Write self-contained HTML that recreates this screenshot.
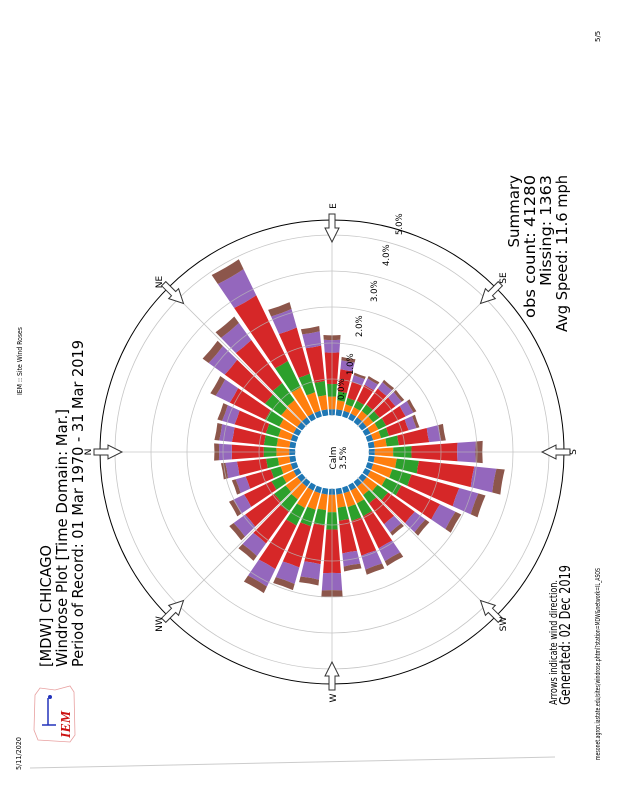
<!DOCTYPE html>
<html><head><meta charset="utf-8"><style>
html,body{margin:0;padding:0;background:#fff;}
svg{display:block;font-family:"DejaVu Sans","Liberation Sans",sans-serif;}
</style></head><body>
<svg id="s" width="618" height="800" viewBox="0 0 618 800" xmlns="http://www.w3.org/2000/svg">
<rect width="618" height="800" fill="#fff"/>
<g id="bars"></g>
<g id="grid" fill="none" stroke="#b8b8b8" stroke-width="0.8" opacity="0.8"></g>
<circle cx="332" cy="452" r="36" fill="#fff"/>
<circle cx="332" cy="452" r="232" fill="none" stroke="#000" stroke-width="1"/>
<g id="arrows" fill="#fff" stroke="#333" stroke-width="1"></g>
<g font-size="9" fill="#000">
<text transform="translate(336,458) rotate(-90)" text-anchor="middle">Calm</text>
<text transform="translate(346,458) rotate(-90)" text-anchor="middle">3.5%</text>
<text transform="translate(344,400) rotate(-90)" font-size="8.5">0.0%</text>
<text transform="translate(353,375) rotate(-90)" font-size="8.5">1.0%</text>
<text transform="translate(362,337) rotate(-90)" font-size="8.5">2.0%</text>
<text transform="translate(377,302) rotate(-90)" font-size="8.5">3.0%</text>
<text transform="translate(389,266) rotate(-90)" font-size="8.5">4.0%</text>
<text transform="translate(402,235) rotate(-90)" font-size="8.5">5.0%</text>
</g>
<g font-size="9" fill="#000" text-anchor="middle">
<text transform="translate(91,452) rotate(-90)">N</text>
<text transform="translate(336,206) rotate(-90)">E</text>
<text transform="translate(576,452) rotate(-90)">S</text>
<text transform="translate(336,698) rotate(-90)">W</text>
<text transform="translate(162,282) rotate(-90)">NE</text>
<text transform="translate(506,278) rotate(-90)">SE</text>
<text transform="translate(506,624) rotate(-90)">SW</text>
<text transform="translate(162,624) rotate(-90)">NW</text>
</g>
<g fill="#000">
<text transform="translate(51,667) rotate(-90)" font-size="15.5" textLength="122" lengthAdjust="spacingAndGlyphs">[MDW] CHICAGO</text>
<text transform="translate(67,667) rotate(-90)" font-size="15.5" textLength="258" lengthAdjust="spacingAndGlyphs">Windrose Plot [Time Domain: Mar.]</text>
<text transform="translate(83,667) rotate(-90)" font-size="15.5" textLength="327" lengthAdjust="spacingAndGlyphs">Period of Record: 01 Mar 1970 - 31 Mar 2019</text>
<text transform="translate(519,175) rotate(-90)" font-size="15" text-anchor="end">Summary</text>
<text transform="translate(535,175) rotate(-90)" font-size="15" text-anchor="end" textLength="143" lengthAdjust="spacingAndGlyphs">obs count: 41280</text>
<text transform="translate(551,175) rotate(-90)" font-size="15" text-anchor="end" textLength="111" lengthAdjust="spacingAndGlyphs">Missing: 1363</text>
<text transform="translate(567,175) rotate(-90)" font-size="15" text-anchor="end" textLength="157" lengthAdjust="spacingAndGlyphs">Avg Speed: 11.6 mph</text>
<text transform="translate(557,705) rotate(-90)" font-size="11" textLength="125" lengthAdjust="spacingAndGlyphs">Arrows indicate wind direction.</text>
<text transform="translate(570,705) rotate(-90)" font-size="15" textLength="140" lengthAdjust="spacingAndGlyphs">Generated: 02 Dec 2019</text>
<text transform="translate(600,760) rotate(-90)" font-size="7" textLength="192" lengthAdjust="spacingAndGlyphs">mesonet.agron.iastate.edu/sites/windrose.phtml?station=MDW&amp;network=IL_ASOS</text>
<text transform="translate(21,770) rotate(-90)" font-size="7" textLength="33" lengthAdjust="spacingAndGlyphs">5/11/2020</text>
<text transform="translate(22,395) rotate(-90)" font-size="7" textLength="68" lengthAdjust="spacingAndGlyphs">IEM :: Site Wind Roses</text>
<text transform="translate(600,42) rotate(-90)" font-size="7">5/5</text>
</g>
<line x1="30" y1="768" x2="555" y2="757" stroke="#ccc" stroke-width="1"/>
<g>
<path d="M35,695 L40,688 L55,690 L70,686 L74,692 L75,735 L70,742 L38,740 L34,730 Z" fill="#fff" stroke="#e8a0a0" stroke-width="0.8"/>
<line x1="48" y1="698" x2="48" y2="725" stroke="#2233bb" stroke-width="1.5"/>
<line x1="42" y1="725" x2="56" y2="725" stroke="#2233bb" stroke-width="1.5"/>
<circle cx="50" cy="697" r="2" fill="#2233bb"/>
<text transform="translate(70,738) rotate(-90)" font-family="Liberation Serif,serif" font-style="italic" font-weight="bold" font-size="14" fill="#cc1111">IEM</text>
</g>
</svg>
<script>
(function(){
var cx=332,cy=452,NS="http://www.w3.org/2000/svg";
function pt(th,r){var a=th*Math.PI/180;return [cx-r*Math.cos(a),cy-r*Math.sin(a)];}
function wedge(th,r0,r1,hw,col){
 var a=pt(th-hw,r0),b=pt(th-hw,r1),c=pt(th+hw,r1),d=pt(th+hw,r0);
 var p=document.createElementNS(NS,"path");
 p.setAttribute("d","M"+a+" L"+b+" A"+r1+","+r1+" 0 0 0 "+c+" L"+d+" A"+r0+","+r0+" 0 0 1 "+a+"Z");
 p.setAttribute("fill",col);return p;}
var R={0:123,10:123,20:124,30:141,40:167,50:175,60:225,70:163,80:132,90:122,100:99,110:85,120:87,130:92,140:92,150:97,160:94,170:119,180:158,190:182,200:167,210:150,220:125,230:107,240:132,250:133,260:125,270:152,280:140,290:150,300:164,310:140,320:132,330:119,340:108,350:116};
var cols=["#1f77b4","#ff7f0e","#2ca02c","#d62728","#9467bd","#8c564b"];
var fr=[0.16,0.16,0.40,0.16,0.06];
var g=document.getElementById("bars");
for(var th in R){
 var t=+th,r=R[th],T=r-37,rest=T-6,cur=37;
 g.appendChild(wedge(t,cur,cur+6,4.2,cols[0]));cur+=6;
 for(var i=0;i<5;i++){var h=rest*fr[i];g.appendChild(wedge(t,cur,cur+h,4.2,cols[i+1]));cur+=h;}
}
var gr=document.getElementById("grid");
[73,109,145,181,217].forEach(function(r){var c=document.createElementNS(NS,"circle");c.setAttribute("cx",cx);c.setAttribute("cy",cy);c.setAttribute("r",r);gr.appendChild(c);});
for(var k=0;k<8;k++){var a=pt(k*45,36),b=pt(k*45,232);var l=document.createElementNS(NS,"line");
 l.setAttribute("x1",a[0]);l.setAttribute("y1",a[1]);l.setAttribute("x2",b[0]);l.setAttribute("y2",b[1]);gr.appendChild(l);}
var ar=document.getElementById("arrows");
for(var k=0;k<8;k++){
 var th=k*45,a=th*Math.PI/180,ux=-Math.cos(a),uy=-Math.sin(a),px=-uy,py=ux;
 function P(r,w){return (cx+ux*r+px*w).toFixed(1)+","+(cy+uy*r+py*w).toFixed(1);}
 var poly=[P(238,3),P(224,3),P(224,7),P(210,0),P(224,-7),P(224,-3),P(238,-3)];
 var e=document.createElementNS(NS,"polygon");e.setAttribute("points",poly.join(" "));ar.appendChild(e);}
})();
</script>
</body></html>
